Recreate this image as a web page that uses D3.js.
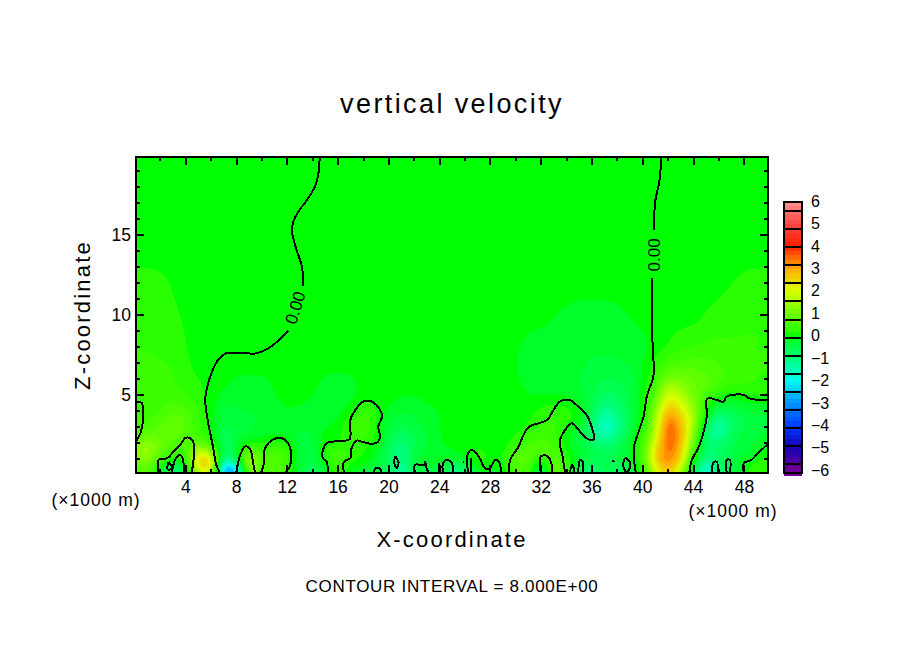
<!DOCTYPE html>
<html>
<head>
<meta charset="utf-8">
<script src="https://cdn.jsdelivr.net/npm/d3@7"></script>
<style>
  html, body { margin: 0; background: #fff; }
  text { font-family: "Liberation Sans", sans-serif; fill: #000; }
</style>
</head>
<body>
<svg id="chart" width="904" height="654"></svg>
<script>
// grid knots of the shaded field
var xKnots = [0,1,2,3,4,5,6,7,8,9,10,11,12,13,14,15,16,17,18,19,20,21,22,23,24,25,26,27,28,29,30,31,32,33,34,35,36,37,38,39,40,41,42,43,44,45,46,47,48,49,50];
var zKnots = [0.1,0.5,1,1.5,2,2.5,3,3.5,4,5,6,7,8,10,12,13.5,20];
var row01 = [.3,.6,-.6,-1.2,-1,1,1,-3.4,-3,1,.3,.5,.3,-.5,-1,-.3,.3,-.4,-.5,-.6,-.5,-2,-.8,-.7,-.5,-1.6,-1.2,-.2,-.3,-.3,.5,.4,-1.5,.9,.3,-.9,-1.5,-.5,-1,-.7,.1,1.4,2.4,.8,-.7,-2.4,-.8,-.6,.1,.3,.3];
var row05 = [.7,1,-.2,-.8,-.6,2.6,2.6,-3.4,-2.6,2,.5,.8,.3,-.4,-.7,-.2,.5,-.1,-.2,-.4,-.7,-1.5,-.4,-.3,-.3,-.9,-.8,.1,-.1,-.1,.7,.6,-1,1.2,.3,-.7,-1,-.4,-.8,-.5,.4,2.2,3.2,1.8,-.4,-2.2,-.7,-.5,.1,.3,.3];
var row10 = [1,1.3,.4,.1,.2,3,2.8,-1.6,-.2,2,.4,.9,.4,-.4,-.5,.2,.6,.2,.1,-.2,-.7,-1.2,-.3,-.1,-.1,-.3,-.2,.2,.1,.1,.9,.7,.1,1,.3,-.3,-.6,-.4,-.5,-.3,.5,2.7,3.5,2.5,-.1,-1.3,-.7,-.5,-.2,.1,.2];
var row15 = [1.2,1.6,.9,.4,.3,2,1.3,-1,-.2,1.2,.3,.6,.4,-.5,-.5,.2,.5,.2,.1,-.2,-.7,-1.3,-.4,-.2,-.1,-.1,.1,.3,0,0,.8,.7,.6,.7,0,-.2,-.5,-.6,-.5,-.2,.6,2.6,3.6,2.7,.4,-1,-.8,-.5,-.3,-.2,.1];
var row20 = [1.1,1.4,.9,.6,.4,1,.3,-.8,-.3,.1,.1,.3,.2,-.5,-.3,.1,.1,.3,.2,0,-.6,-1.1,-.5,-.3,-.1,-.1,-.1,0,-.1,-.1,.3,.5,.6,.5,-.1,-.4,-.7,-1.1,-.7,-.2,.5,2.2,3.8,2.8,.8,-1,-.9,-.5,-.4,-.3,-.1];
var row25 = [.6,.9,.8,.9,.6,.4,.1,-.7,-.4,-.3,-.2,-.1,-.2,-.4,-.3,0,0,.4,.4,.1,-.5,-.9,-.5,-.3,-.1,0,0,0,0,0,.1,.4,.5,.4,-.1,-.4,-1,-1.6,-1,-.3,.3,1.8,3.9,3,1.1,-1.2,-1.3,-.6,-.4,-.3,-.2];
var row30 = [.4,.6,.8,1,.7,.3,0,-.6,-.4,-.3,-.3,-.2,-.2,-.3,-.2,-.1,0,.4,.5,.1,-.4,-.6,-.4,-.2,-.1,0,0,0,0,0,0,.1,.4,.3,0,-.2,-1.1,-1.8,-1.3,-.4,.2,1.6,3.9,2.8,1.4,-.9,-1.8,-.7,-.5,-.4,-.3];
var row35 = [.3,.5,.6,.9,.7,.3,0,-.5,-.4,-.3,-.3,-.2,-.2,-.3,-.2,-.2,-.1,.3,.5,.1,-.3,-.4,-.3,-.2,-.1,0,0,0,0,0,0,.1,.3,.4,.2,0,-.9,-1.7,-1.2,-.5,0,1.5,3.7,2.6,1.5,-.5,-1.3,-.8,-.5,-.4,-.3];
var row40 = [.3,.4,.5,.7,.6,.3,0,-.4,-.3,-.3,-.3,-.2,-.1,-.2,-.2,-.3,-.2,.1,.4,.1,-.2,-.3,-.3,-.2,-.1,0,0,0,0,0,0,0,.2,.3,.2,0,-.6,-1.4,-1,-.5,0,1.2,3.1,2.3,1.5,-.1,-.8,-.6,-.4,-.3,-.2];
var row50 = [.3,.3,.4,.4,.3,.2,0,-.2,-.25,-.25,-.25,-.1,0,0,-.1,-.3,-.3,-.2,0,0,0,-.1,-.1,0,0,0,0,0,0,0,0,-.1,-.1,-.1,-.1,-.2,-.5,-.8,-.7,-.4,0,.8,2.2,1.6,1,.5,.1,0,.1,.1,.1];
var row60 = [.3,.3,.4,.3,.2,.1,0,0,-.15,-.15,-.15,-.05,0,0,0,-.15,-.2,-.15,0,0,0,0,0,0,0,0,0,0,0,0,-.05,-.2,-.25,-.25,-.3,-.3,-.4,-.5,-.5,-.4,-.1,.4,1.2,1.1,.9,.8,.6,.4,.4,.3,.3];
var row70 = [.3,.3,.3,.3,.15,0,0,0,0,0,0,0,0,0,0,0,0,0,0,0,0,0,0,0,0,0,0,0,0,0,-.1,-.25,-.25,-.25,-.25,-.25,-.35,-.35,-.35,-.25,-.1,.2,.5,.6,.6,.6,.5,.4,.3,.3,.3];
var row80 = [.3,.3,.3,.25,.1,0,0,0,0,0,0,0,0,0,0,0,0,0,0,0,0,0,0,0,0,0,0,0,0,0,-.05,-.2,-.25,-.25,-.25,-.25,-.25,-.25,-.25,-.25,-.2,0,.12,.25,.3,.35,.35,.3,.3,.3,.3];
var row100 = [.3,.3,.3,.15,.05,0,0,0,0,0,0,0,0,0,0,0,0,0,0,0,0,0,0,0,0,0,0,0,0,0,0,0,0,-.1,-.15,-.2,-.2,-.2,-.15,-.1,0,0,0,0,.02,.12,.2,.3,.3,.3,.3];
var row120 = [.3,.3,.2,.05,0,0,0,0,0,0,0,0,0,0,0,0,0,0,0,0,0,0,0,0,0,0,0,0,0,0,0,0,0,0,0,0,0,0,0,0,0,0,0,0,0,0,0,.1,.2,.3,.3];
var row135 = [0,0,0,0,0,0,0,0,0,0,0,0,0,0,0,0,0,0,0,0,0,0,0,0,0,0,0,0,0,0,0,0,0,0,0,0,0,0,0,0,0,0,0,0,0,0,0,0,0,0,0];
var row200 = row135;
var fieldRows = [row01,row05,row10,row15,row20,row25,row30,row35,row40,row50,row60,row70,row80,row100,row120,row135,row200];

// zero contour, [x, z]
var zeroLines = [
  [[14.6,19.9],[14.45,18.65],[14.2,18],[13.6,17.2],[12.9,16.45],[12.5,15.8],[12.4,15.3],[12.6,14.5],[13.05,13.4],[13.2,13],[13.3,11.8]],
  [[12.1,9],[11.35,8.4],[10.4,7.85],[9.6,7.6],[7.2,7.6],[6.6,7.2],[6.1,6.45],[5.7,5.4],[5.57,4.69],[5.76,3.44],[5.97,2.6],[6.23,1.56],[6.44,.63],[6.76,.1]],
  [[.1,4.52],[.55,4.52],[.67,4.1],[.67,3.44],[.46,2.6],[.1,2.08]],
  [[1.9,.1],[1.9,.94],[2.56,1.04],[3.08,1.46],[3.6,1.88],[4,2.3],[4.4,2.3],[4.7,1.88],[4.65,.94],[4.5,.1]],
  [[2.95,.1],[3.2,.94],[3.6,1.25],[3.8,1.04],[3.9,.1]],
  [[2.7,.83],[2.95,.4],[2.6,.35],[2.7,.83]],
  [[8,.1],[8.33,1.25],[8.7,1.77],[9.07,1.67],[9.4,.5],[9.5,.1]],
  [[9.95,.1],[10.2,.73],[10.2,1.46],[10.56,2],[11.2,2.3],[11.87,2.19],[12.27,1.67],[12.27,.63],[11.87,.1]],
  [[15.2,.1],[15.15,.83],[14.84,1.04],[14.84,1.56],[15.15,1.98],[16.2,2.13],[16.94,2.23],[17,3.44],[17.4,4.06],[18,4.58],[18.7,4.58],[19.35,4.06],[19.5,3.65],[19.2,3.02],[19.35,2.4],[19.2,2.08],[18.7,1.94],[17.9,2.08],[17.5,2.15],[17.1,1.67],[17,1.04],[16.5,.83],[16.5,.1]],
  [[18.9,.1],[18.95,.4],[19.3,.4],[19.5,.1]],
  [[20.55,1.15],[20.8,.77],[20.67,.42],[20.45,.77],[20.55,1.15]],
  [[22.1,.1],[22.1,.63],[22.8,.63],[22.9,.83],[23,.42],[23.2,.1]],
  [[24,.1],[24,.73]],
  [[24.3,.1],[24.3,.73],[24.6,.94],[25,.73],[25.1,.1]],
  [[25.85,.85],[25.95,.8]],
  [[26.3,.1],[26.2,1.15],[26.5,1.56],[26.8,1.46],[27.2,1.04],[27.6,.42],[28,.42],[28.4,.94],[28.7,.83],[28.9,.1]],
  [[26.5,.1],[26.5,1.04]],
  [[29.5,.1],[29.6,.94],[30.25,1.77],[30.65,2.5],[31.05,3],[32.5,3.44],[33,4.06],[33.5,4.58],[34.3,4.69],[34.8,4.38],[35.6,3.75],[36,3.02],[36.2,2.23],[35.75,2.23],[35.2,2.6],[34.45,3.23],[33.9,2.8],[33.5,2.08],[33.7,1.25],[33.9,.3],[34.05,.1]],
  [[32,.1],[32,1.15],[32.5,1.19],[32.8,.83],[32.9,.1]],
  [[34.3,.1],[34.45,.63],[34.6,.42],[34.65,.1]],
  [[34.95,.1],[35.1,.94],[35.3,.83],[35.35,.1]],
  [[37.65,.95],[37.75,.8]],
  [[38.75,.1],[38.5,.6],[38.65,1.04],[39,.83],[39,.42],[38.75,.1]],
  [[41.5,19.9],[41.35,18.4],[41,17],[40.95,15.3]],
  [[40.8,12.3],[40.8,8.44],[40.9,6.35],[40.8,5.94],[40.35,4.9],[40.1,3.65],[39.7,2.7],[39.35,1.77],[39.35,.94],[39.5,.1]],
  [[43.7,.1],[43.9,.94],[44.4,1.67],[44.8,2.6],[45.1,3.85],[45,4.58],[45.2,4.8],[45.85,4.69],[46.4,4.58],[46.65,4.9],[48,5],[48.35,4.8],[49.9,4.65]],
  [[45.5,.1],[45.6,.77],[45.85,.83],[46,.1]],
  [[46.65,.1],[46.65,.94],[46.9,.94],[46.9,.1]],
  [[48,.1],[48,.73],[48.6,.94],[49.1,1.35],[49.9,1.94]]
];
var lineLabels = [
  { text: '0.00', x: 12.65, z: 10.45, angle: -73 },
  { text: '0.00', x: 40.9, z: 13.75, angle: -90 }
];

var xMajorTicks = [4,8,12,16,20,24,28,32,36,40,44,48];
var xMinorTicks = [2,6,10,14,18,22,26,30,34,38,42,46];
var zMajorTicks = [5,10,15];
var zMinorTicks = [1,2,3,4,6,7,8,9,11,12,13,14,16,17,18,19];

var colorValues = [-6,-5,-4,-3,-2,-1,-0.2,0,0.2,1,2,3,4,5,6];
var colorList = ['#6e0096','#1400b4','#003cff','#0096ff','#00fff0','#00ff78','#00ff28','#00ff00','#2aff00','#6eff00','#dcff00','#ffaa00','#ff1e00','#ff4646','#ff9696'];
var barEdges = [5.97,5.57,4.76,3.96,3.16,2.36,1.55,0.69,-0.11,-0.91,-1.72,-2.52,-3.32,-4.13,-4.93,-5.73,-6.13];
var barLabels = [6,5,4,3,2,1,0,-1,-2,-3,-4,-5,-6];

var plot = { left: 136, right: 768, top: 157, bottom: 473 };
var svg = d3.select('#chart');
var xScale = d3.scaleLinear().domain([0.12, 49.9]).range([plot.left, plot.right]);
var zScale = d3.scaleLinear().domain([0.12, 19.87]).range([plot.bottom, plot.top]);
var colorScale = d3.scaleLinear().domain(colorValues).range(colorList).clamp(true);
var bandStep = 0.2;

// field value at x, z, bilinear between the knots
var fieldAt = function(x, z) {
  var i = Math.min(d3.bisectRight(xKnots, x) - 1, xKnots.length - 2);
  var j = Math.max(0, Math.min(d3.bisectRight(zKnots, z) - 1, zKnots.length - 2));
  var tx = (x - xKnots[i]) / (xKnots[i + 1] - xKnots[i]);
  var tz = Math.max(0, (z - zKnots[j]) / (zKnots[j + 1] - zKnots[j]));
  var low = fieldRows[j][i] * (1 - tx) + fieldRows[j][i + 1] * tx;
  var high = fieldRows[j + 1][i] * (1 - tx) + fieldRows[j + 1][i + 1] * tx;
  return low * (1 - tz) + high * tz;
};

var cell = 2;
var nx = Math.round((plot.right - plot.left) / cell);
var ny = Math.round((plot.bottom - plot.top) / cell);
var values = new Float64Array(nx * ny);
for (var r = 0; r < ny; r++) {
  for (var c = 0; c < nx; c++) {
    values[r * nx + c] = fieldAt(xScale.invert(plot.left + c * cell), zScale.invert(plot.top + r * cell));
  }
}
d3.blur2({ data: values, width: nx, height: ny }, 2);

var thresholds = d3.range(-6.1, 6.01, bandStep);
var contours = d3.contours().size([nx, ny]).thresholds(thresholds)(values);
var toPlot = d3.geoTransform({
  point: function(x, y) { this.stream.point(plot.left + x * cell, plot.top + y * cell); }
});
var path = d3.geoPath(toPlot);

svg.append('clipPath').attr('id', 'plot-clip').append('rect')
  .attr('x', plot.left).attr('y', plot.top)
  .attr('width', plot.right - plot.left).attr('height', plot.bottom - plot.top);

var fieldGroup = svg.append('g').attr('clip-path', 'url(#plot-clip)');
fieldGroup.selectAll('path').data(contours)
  .enter().append('path')
  .attr('d', path)
  .attr('fill', function(d) { return colorScale(d.value + bandStep / 2); })
  .attr('shape-rendering', 'crispEdges');

var zeroLine = d3.line()
  .curve(d3.curveCatmullRom.alpha(0.5))
  .x(function(d) { return xScale(d[0]); })
  .y(function(d) { return zScale(d[1]); });
svg.append('g').attr('clip-path', 'url(#plot-clip)').selectAll('path').data(zeroLines)
  .enter().append('path')
  .attr('d', zeroLine)
  .attr('fill', 'none')
  .attr('stroke', '#000')
  .attr('stroke-width', 2)
  .attr('shape-rendering', 'crispEdges');

svg.selectAll('.line-label').data(lineLabels)
  .enter().append('text')
  .attr('class', 'line-label')
  .attr('transform', function(d) {
    return 'translate(' + xScale(d.x) + ',' + zScale(d.z) + ') rotate(' + d.angle + ')';
  })
  .attr('text-anchor', 'middle')
  .attr('dy', '0.36em')
  .attr('font-size', 17)
  .text(function(d) { return d.text; });

// axes, each side drawn twice: long ticks and short ticks
var drawAxis = function(axis, transform, labelled) {
  var g = svg.append('g').attr('transform', transform).call(axis);
  g.select('.domain').remove();
  g.selectAll('line').attr('stroke', '#000').attr('stroke-width', 2).attr('shape-rendering', 'crispEdges');
  if (labelled) {
    g.selectAll('text').attr('font-size', 17.5).attr('font-family', 'Liberation Sans');
  } else {
    g.selectAll('text').remove();
  }
  return g;
};
var bottom = 'translate(0,' + plot.bottom + ')';
var top_ = 'translate(0,' + plot.top + ')';
var left = 'translate(' + plot.left + ',0)';
var right = 'translate(' + plot.right + ',0)';

drawAxis(d3.axisBottom(xScale).tickValues(xMajorTicks).tickSizeInner(-8).tickSizeOuter(0).tickPadding(8), bottom, true);
drawAxis(d3.axisBottom(xScale).tickValues(xMinorTicks).tickSizeInner(-4).tickSizeOuter(0), bottom, false);
drawAxis(d3.axisTop(xScale).tickValues(xMajorTicks).tickSizeInner(-8).tickSizeOuter(0), top_, false);
drawAxis(d3.axisTop(xScale).tickValues(xMinorTicks).tickSizeInner(-4).tickSizeOuter(0), top_, false);
drawAxis(d3.axisLeft(zScale).tickValues(zMajorTicks).tickSizeInner(-8).tickSizeOuter(0).tickPadding(5), left, true);
drawAxis(d3.axisLeft(zScale).tickValues(zMinorTicks).tickSizeInner(-4).tickSizeOuter(0), left, false);
drawAxis(d3.axisRight(zScale).tickValues(zMajorTicks).tickSizeInner(-8).tickSizeOuter(0), right, false);
drawAxis(d3.axisRight(zScale).tickValues(zMinorTicks).tickSizeInner(-4).tickSizeOuter(0), right, false);

svg.append('rect')
  .attr('x', plot.left).attr('y', plot.top)
  .attr('width', plot.right - plot.left).attr('height', plot.bottom - plot.top)
  .attr('fill', 'none').attr('stroke', '#000').attr('stroke-width', 2.4)
  .attr('shape-rendering', 'crispEdges');

// colour bar
var barScale = d3.scaleLinear().domain([6, -6]).range([201, 470]);
var barGroup = svg.append('g');
var barStops = d3.range(5.97, -6.13, -bandStep);
barGroup.selectAll('rect').data(barStops)
  .enter().append('rect')
  .attr('x', 784).attr('width', 18)
  .attr('y', function(d) { return barScale(d); })
  .attr('height', barScale(0) - barScale(bandStep) + 0.5)
  .attr('fill', function(d) { return colorScale(d - bandStep / 2); })
  .attr('shape-rendering', 'crispEdges');
barGroup.selectAll('line').data(barEdges)
  .enter().append('line')
  .attr('x1', 784).attr('x2', 802)
  .attr('y1', function(d) { return barScale(d); })
  .attr('y2', function(d) { return barScale(d); })
  .attr('stroke', '#000').attr('stroke-width', 2)
  .attr('shape-rendering', 'crispEdges');
barGroup.append('rect')
  .attr('x', 784).attr('width', 18)
  .attr('y', barScale(barEdges[0]))
  .attr('height', barScale(barEdges[barEdges.length - 1]) - barScale(barEdges[0]))
  .attr('fill', 'none').attr('stroke', '#000').attr('stroke-width', 2)
  .attr('shape-rendering', 'crispEdges');
svg.selectAll('.bar-label').data(barLabels)
  .enter().append('text')
  .attr('class', 'bar-label')
  .attr('x', 811)
  .attr('y', function(d) { return barScale(d); })
  .attr('dy', '0.36em')
  .attr('font-size', 16)
  .text(function(d) { return d < 0 ? '\u2212' + Math.abs(d) : d; });

// titles and notes
var addText = function(content, x, y, size, spacing, anchor, angle) {
  svg.append('text')
    .attr('transform', 'translate(' + x + ',' + y + ')' + (angle ? ' rotate(' + angle + ')' : ''))
    .attr('text-anchor', anchor || 'middle')
    .attr('font-size', size)
    .attr('letter-spacing', spacing)
    .text(content);
};
addText('vertical velocity', 452, 113, 27, 2.4);
addText('X-coordinate', 452, 547, 22, 2.2);
addText('Z-coordinate', 90, 315, 22, 2.2, 'middle', -90);
addText('(\u00d71000 m)', 96, 506, 17.5, 1);
addText('(\u00d71000 m)', 733, 517, 17.5, 1);
addText('CONTOUR INTERVAL = 8.000E+00', 452, 592, 17, 0.7);
</script>
</body>
</html>
